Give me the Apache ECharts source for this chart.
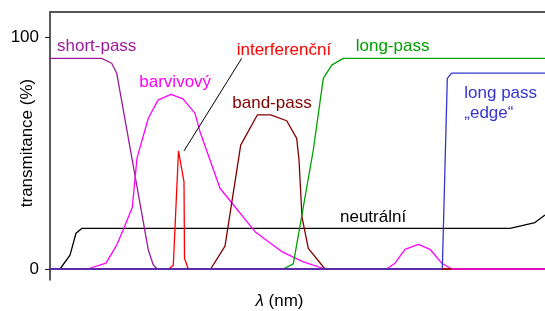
<!DOCTYPE html>
<html>
<head>
<meta charset="utf-8">
<script src="https://cdn.jsdelivr.net/npm/echarts@6/dist/echarts.min.js"></script>
<style>
  html, body { margin: 0; padding: 0; background: #fff; }
  #chart { width: 545px; height: 311px; }
</style>
</head>
<body>
<div id="chart"></div>
<script>
// propustnost filtrů, hodnoty ([λ, T %])
const shortPass = [[300, 90.8], [351.7, 90.8], [361.7, 88.7], [366.7, 84.4], [398.3, 8.2], [403.3, 1.7], [407.3, 0]]
const barvivovy = [
  [337.3, 0], [356, 2.5], [366.7, 10.3], [374, 17.7], [382.3, 26.6], [387, 47.8], [398.3, 65.0],
  [408, 72.8], [421, 75.3], [433, 73.3], [445, 67.1], [450, 59.2], [470, 34.8], [505, 16.1],
  [531.7, 7.5], [553.3, 3.1], [575, 0], [636.7, 0], [645, 2.5], [655, 8.5], [668.3, 10.6],
  [680, 8.5], [691.7, 2.5], [701.7, 0], [795, 0]
]
const interferencni = [[419, 0], [423.3, 1.7], [428.5, 50.9], [434, 37.6], [434.5, 4.6], [438.3, 0]]
const bandPass = [
  [460.7, 0], [475, 9.9], [490.7, 53.4], [507.3, 66.4], [520.7, 66.4], [536.7, 63.9],
  [546.7, 56.3], [549, 47.0], [552, 22.4], [558.3, 8.9], [575, 0]
]
const longPass = [[533.3, 0], [543.3, 2.2], [563.3, 51.3], [573.3, 82.2], [581.7, 87.9], [593.3, 90.8], [795, 90.8]]
const longPassEdge = [[692.3, 0], [697.3, 82.2], [701.7, 84.4], [795, 84.4]]
const neutralni = [[310, 0], [320, 6.0], [326, 15.4], [331.7, 17.5], [760, 17.5], [785, 20.0], [795, 23.3]]
const leader = [[434, 50.9], [491.7, 90.8]]
const baseline = [[300, 0], [692.3, 0]]
const baselineMid = [[692.3, 0], [701.7, 0]]
const baselineEnd = [[701.7, 0], [795, 0]]
const yTicks = [0, 100]

const font = '"Liberation Sans", Arial, sans-serif'

function line(name, data, color, width, z) {
  return {
    name,
    type: 'line',
    data,
    symbol: 'none',
    silent: true,
    z: z || 2,
    lineStyle: { color, width: width || 1.3 }
  }
}

function label(text, left, top, color) {
  return {
    type: 'text',
    x: left,
    y: top,
    style: { text, fill: color, font: '17px ' + font, align: 'left', verticalAlign: 'middle' }
  }
}

const chart = echarts.init(document.getElementById('chart'))
chart.setOption({
  animation: false,
  grid: { left: 50, right: 0, top: 12, bottom: 31, containLabel: false, outerBoundsMode: 'none' },
  xAxis: [
    {
      type: 'value',
      min: 300,
      max: 795,
      name: '{i|λ} (nm)',
      nameLocation: 'middle',
      nameGap: 13,
      nameTextStyle: {
        fontFamily: font,
        fontSize: 17,
        color: '#000',
        padding: [0, 36, 0, 0],
        rich: { i: { fontStyle: 'italic', fontFamily: font, fontSize: 17 } }
      },
      axisLine: { lineStyle: { color: '#222', width: 1.5 } },
      axisTick: { show: false },
      axisLabel: { show: false },
      splitLine: { show: false }
    },
    {
      type: 'value',
      position: 'top',
      min: 300,
      max: 795,
      axisLine: { show: true, lineStyle: { color: '#555', width: 2 } },
      axisTick: { show: false },
      axisLabel: { show: false },
      splitLine: { show: false }
    }
  ],
  yAxis: {
    type: 'value',
    min: -4.74,
    max: 110.78,
    axisLine: { show: true, lineStyle: { color: '#222', width: 1.5 } },
    axisTick: { show: true, length: 5, customValues: yTicks, lineStyle: { color: '#222' } },
    axisLabel: { customValues: yTicks, margin: 11, fontFamily: font, fontSize: 17, color: '#000' },
    splitLine: { show: false }
  },
  series: [
    line('neutrální', neutralni, '#000000'),
    line('short-pass', shortPass, '#9c1a9c'),
    line('barvivový', barvivovy, '#ff00ff'),
    line('interferenční', interferencni, '#ff0000'),
    line('band-pass', bandPass, '#800000'),
    line('long-pass', longPass, '#00a000'),
    line('long pass edge', longPassEdge, '#3535d0'),
    line('popisek', leader, '#000000', 1),
    line('základ', baseline, '#5c2ca8', 2, 5),
    line('základ 2', baselineMid, '#a01010', 2, 5),
    line('základ 3', baselineEnd, '#e00cb4', 2, 5)
  ],
  graphic: [
    {
      type: 'text',
      x: 27,
      y: 143,
      rotation: Math.PI / 2,
      style: { text: 'transmitance (%)', fill: '#000', font: '17px ' + font, align: 'center', verticalAlign: 'middle' }
    },
    label('short-pass', 57, 46.3, '#9c1a9c'),
    label('barvivový', 139.3, 82.5, '#ff00ff'),
    label('interferenční', 236.7, 50.5, '#ff0000'),
    label('band-pass', 232.3, 103, '#800000'),
    label('long-pass', 355.7, 46.3, '#00a000'),
    label('long pass', 464.3, 93, '#3535d0'),
    label('„edge“', 464.3, 113, '#3535d0'),
    label('neutrální', 340, 217.3, '#000')
  ]
})
</script>
</body>
</html>
